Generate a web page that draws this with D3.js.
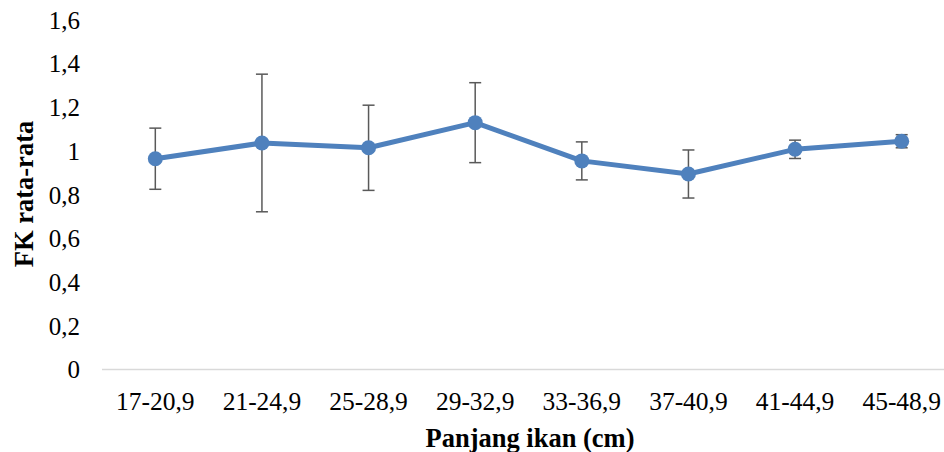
<!DOCTYPE html>
<html>
<head>
<meta charset="utf-8">
<script src="https://cdn.jsdelivr.net/npm/d3@7"></script>
<style>
  html, body { margin: 0; padding: 0; background: #fff; }
  svg { display: block; font-family: "Liberation Serif", "Times New Roman", serif; }
</style>
</head>
<body>
<div id="chart"></div>
<script>
// Fish length classes and mean condition factor (FK)
const categories = ['17-20,9', '21-24,9', '25-28,9', '29-32,9', '33-36,9', '37-40,9', '41-44,9', '45-48,9'];
const fkMean = [0.965, 1.037, 1.015, 1.13, 0.955, 0.895, 1.008, 1.045];
const fkErr = [0.14, 0.315, 0.195, 0.183, 0.087, 0.11, 0.042, 0.03];
const yTicks = [0, 0.2, 0.4, 0.6, 0.8, 1, 1.2, 1.4, 1.6];

const W = 944, H = 452;
const BLUE = '#4f81bd';
const GREY = '#595959';

const svg = d3.select('#chart').append('svg')
  .attr('width', W).attr('height', H)
  .attr('viewBox', `0 0 ${W} ${H}`);

const x = d3.scaleBand().domain(categories).range([102, 955]);
const y = d3.scaleLinear().domain([0, 1.6]).range([369.5, 20]);

// y tick labels (no gridlines)
const fmt = d => String(d).replace('.', ',');
svg.append('g').selectAll('text')
  .data(yTicks)
  .enter().append('text')
  .attr('x', 80).attr('y', d => y(d))
  .attr('dy', '0.35em')
  .attr('text-anchor', 'end')
  .attr('font-size', 25)
  .attr('fill', '#000')
  .text(fmt);

// x axis line
svg.append('line')
  .attr('x1', x.range()[0]).attr('x2', x.range()[1])
  .attr('y1', y(0)).attr('y2', y(0))
  .attr('stroke', '#d9d9d9').attr('stroke-width', 1.5);

// category labels
svg.append('g').selectAll('text')
  .data(categories)
  .enter().append('text')
  .attr('x', d => x(d) + x.bandwidth() / 2)
  .attr('y', 410)
  .attr('text-anchor', 'middle')
  .attr('font-size', 25.5)
  .attr('fill', '#000')
  .text(d => d);

const cx = (d, i) => x(categories[i]) + x.bandwidth() / 2;

// error bars
const errG = svg.append('g').attr('class', 'err');
fkMean.forEach((m, i) => {
  const px = cx(null, i);
  const top = y(m + fkErr[i]), bot = y(m - fkErr[i]);
  errG.append('line').attr('x1', px).attr('x2', px).attr('y1', top).attr('y2', bot)
    .attr('stroke', GREY).attr('stroke-width', 1.5);
  [top, bot].forEach(yy => {
    errG.append('line').attr('x1', px - 6).attr('x2', px + 6).attr('y1', yy).attr('y2', yy)
      .attr('stroke', GREY).attr('stroke-width', 1.5);
  });
});

// line
const line = d3.line().x((d, i) => cx(d, i)).y(d => y(d));
svg.append('path')
  .datum(fkMean)
  .attr('d', line)
  .attr('fill', 'none')
  .attr('stroke', BLUE)
  .attr('stroke-width', 5)
  .attr('stroke-linejoin', 'round');

// markers
svg.append('g').selectAll('circle')
  .data(fkMean)
  .enter().append('circle')
  .attr('cx', (d, i) => cx(d, i))
  .attr('cy', d => y(d))
  .attr('r', 7.5)
  .attr('fill', BLUE);

// axis titles
svg.append('text')
  .attr('x', 530).attr('y', 447)
  .attr('text-anchor', 'middle')
  .attr('font-size', 26.5).attr('font-weight', 'bold')
  .text('Panjang ikan (cm)');

svg.append('text')
  .attr('transform', 'translate(33,194) rotate(-90)')
  .attr('text-anchor', 'middle')
  .attr('font-size', 26.5).attr('font-weight', 'bold')
  .text('FK rata-rata');
</script>
</body>
</html>
